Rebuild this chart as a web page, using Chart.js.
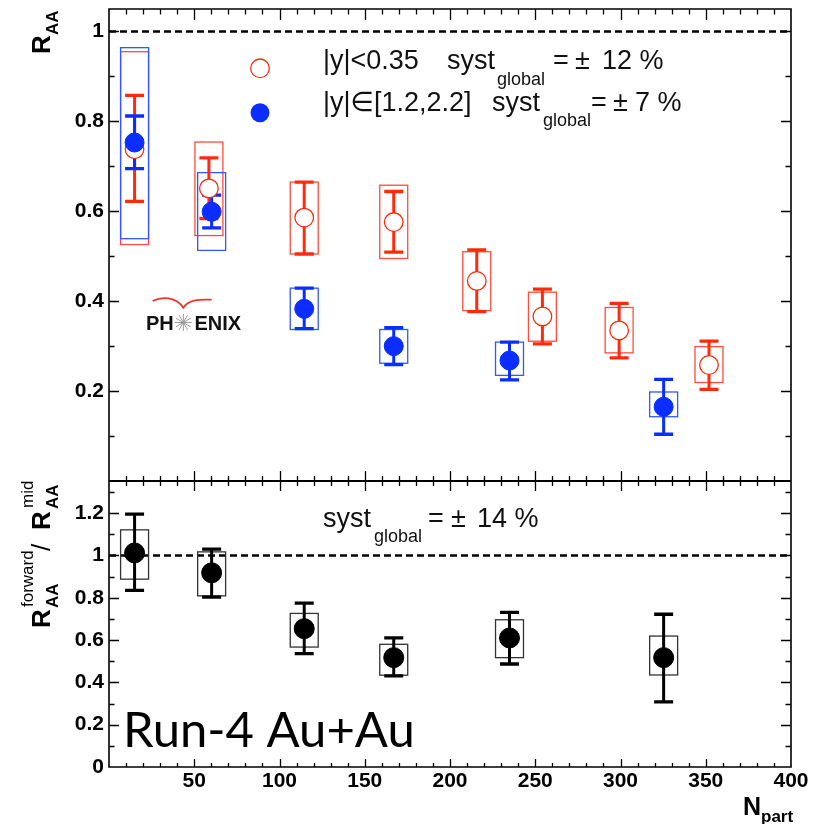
<!DOCTYPE html>
<html><head><meta charset="utf-8">
<script src="https://cdn.jsdelivr.net/npm/chart.js@4.4.0/dist/chart.umd.min.js"></script>
<style>
html,body{margin:0;padding:0;background:#fff;}
#wrap{position:relative;width:827px;height:824px;background:#fff;}
canvas{position:absolute;left:0;top:0;}
</style></head><body>
<div id="wrap"><canvas id="cTop" width="827" height="824"></canvas><canvas id="cBot" width="827" height="824"></canvas></div>
<script>
// ---------------- data ----------------
const npartMid = [15, 58.6, 114.5, 167, 215.7, 254.2, 299.2, 351.9];
const raaMid = [0.738, 0.651, 0.586, 0.576, 0.445, 0.366, 0.335, 0.258];
const raaMidStatLo = [0.622, 0.584, 0.505, 0.509, 0.377, 0.305, 0.274, 0.204];
const raaMidStatHi = [0.858, 0.719, 0.665, 0.644, 0.514, 0.427, 0.395, 0.311];
const raaMidSystLo = [0.526, 0.546, 0.505, 0.495, 0.379, 0.311, 0.285, 0.219];
const raaMidSystHi = [0.955, 0.754, 0.665, 0.658, 0.510, 0.420, 0.386, 0.299];

const npartFwd = [15, 60.2, 114.5, 167, 234.9, 325.3];
const raaFwd = [0.753, 0.599, 0.383, 0.300, 0.268, 0.165];
const raaFwdStatLo = [0.695, 0.563, 0.339, 0.259, 0.225, 0.104];
const raaFwdStatHi = [0.812, 0.636, 0.429, 0.341, 0.309, 0.226];
const raaFwdSystLo = [0.539, 0.513, 0.337, 0.262, 0.235, 0.143];
const raaFwdSystHi = [0.964, 0.686, 0.429, 0.337, 0.309, 0.198];

const ratio = [1.012, 0.918, 0.654, 0.517, 0.610, 0.517];
const ratioStatLo = [0.835, 0.803, 0.536, 0.431, 0.487, 0.308];
const ratioStatHi = [1.195, 1.030, 0.775, 0.610, 0.731, 0.722];
const ratioSystLo = [0.888, 0.809, 0.567, 0.434, 0.517, 0.435];
const ratioSystHi = [1.121, 1.017, 0.726, 0.580, 0.696, 0.619];

const xTicks = [50, 100, 150, 200, 250, 300, 350, 400];
const yTicksTop = [0.2, 0.4, 0.6, 0.8, 1];
const yTicksBottom = [0, 0.2, 0.4, 0.6, 0.8, 1, 1.2];

// ---------------- style ----------------
const RED = '#ff2a0c', RED_BOX = '#ff4c3c';
const BLUE = '#0b2dff', BLUE_BOX = '#3356ff';
const BLACK = '#000', BLACK_BOX = '#333';
const SANS = "'Liberation Sans', Arial, 'DejaVu Sans', sans-serif";
const SYST_HALF = 8.2; // Npart units

function fmt(v){ return Math.abs(v) < 1e-9 ? '0' : (Math.abs(v-1) < 1e-9 ? '1' : v.toFixed(1)); }
function noPad(s){ s.paddingTop = 0; s.paddingBottom = 0; s.paddingLeft = 0; s.paddingRight = 0; }

function boxes(ctx, sx, sy, xv, lo, hi, color){
  ctx.save(); ctx.strokeStyle = color; ctx.lineWidth = 1.3;
  for (let i=0;i<xv.length;i++){
    const l = sx.getPixelForValue(xv[i]-SYST_HALF), r = sx.getPixelForValue(xv[i]+SYST_HALF);
    const t = sy.getPixelForValue(hi[i]), b = sy.getPixelForValue(lo[i]);
    ctx.strokeRect(l, t, r-l, b-t);
  }
  ctx.restore();
}
function bars(ctx, sx, sy, xv, lo, hi, color){
  ctx.save(); ctx.strokeStyle = color; ctx.lineWidth = 3; ctx.lineCap = 'butt';
  for (let i=0;i<xv.length;i++){
    const x = sx.getPixelForValue(xv[i]);
    const t = sy.getPixelForValue(hi[i]), b = sy.getPixelForValue(lo[i]);
    ctx.beginPath(); ctx.moveTo(x, t); ctx.lineTo(x, b); ctx.stroke();
    ctx.save(); ctx.lineWidth = 3.3;
    ctx.beginPath(); ctx.moveTo(x-9.5, t); ctx.lineTo(x+9.5, t); ctx.moveTo(x-9.5, b); ctx.lineTo(x+9.5, b); ctx.stroke();
    ctx.restore();
  }
  ctx.restore();
}
function dashed(ctx, sx, sy, v){
  const y = sy.getPixelForValue(v);
  ctx.save(); ctx.strokeStyle = '#000'; ctx.lineWidth = 2.4; ctx.setLineDash([7,4]);
  ctx.beginPath(); ctx.moveTo(sx.left, y); ctx.lineTo(sx.right, y); ctx.stroke();
  ctx.restore();
}
function txt(ctx, s, x, y, font, color){
  ctx.save(); ctx.font = font; ctx.fillStyle = color || '#111'; ctx.textAlign='left'; ctx.textBaseline='alphabetic';
  ctx.fillText(s, x, y); ctx.restore();
}
function rtxt(ctx, s, x, y, font, color){
  ctx.save(); ctx.translate(x, y); ctx.rotate(-Math.PI/2);
  ctx.font = font; ctx.fillStyle = color || '#000'; ctx.textAlign='left'; ctx.textBaseline='alphabetic';
  ctx.fillText(s, 0, 0); ctx.restore();
}
function hTicks(ctx, sx, y, upMaj, dnMaj, upMin, dnMin){
  ctx.save(); ctx.strokeStyle='#000'; ctx.lineWidth=1.3;
  ctx.beginPath();
  for (let v=10; v<400; v+=10){
    const x = Math.round(sx.getPixelForValue(v))+0.5;
    const maj = v % 50 === 0;
    ctx.moveTo(x, y - (maj?upMaj:upMin)); ctx.lineTo(x, y + (maj?dnMaj:dnMin));
  }
  ctx.stroke(); ctx.restore();
}
function vTicks(ctx, sy, x, dir, nMax){
  ctx.save(); ctx.strokeStyle='#000'; ctx.lineWidth=1.3;
  ctx.beginPath();
  for (let i=1; i<=nMax; i++){
    const y = Math.round(sy.getPixelForValue(i/10))+0.5;
    const len = (i % 2 === 0) ? 10 : 5.5;
    ctx.moveTo(x, y); ctx.lineTo(x + dir*len, y);
  }
  ctx.stroke(); ctx.restore();
}

// ---------------- top panel ----------------
const topPlugin = {
  id: 'topDeco',
  beforeDatasetsDraw(chart){
    const ctx = chart.ctx, sx = chart.scales.x, sy = chart.scales.y;
    dashed(ctx, sx, sy, 1);
    boxes(ctx, sx, sy, npartMid, raaMidSystLo, raaMidSystHi, RED_BOX);
    boxes(ctx, sx, sy, npartFwd, raaFwdSystLo, raaFwdSystHi, BLUE_BOX);
    bars(ctx, sx, sy, npartMid, raaMidStatLo, raaMidStatHi, RED);
    bars(ctx, sx, sy, npartFwd, raaFwdStatLo, raaFwdStatHi, BLUE);
  },
  afterDraw(chart){
    const ctx = chart.ctx, sx = chart.scales.x, sy = chart.scales.y;
    const L = sx.left, R = sx.right, T = sy.top, B = sy.bottom;
    ctx.save(); ctx.strokeStyle='#000'; ctx.lineWidth=1.6;
    ctx.beginPath(); ctx.moveTo(L, B); ctx.lineTo(L, T); ctx.lineTo(R, T); ctx.lineTo(R, B); ctx.stroke();
    ctx.restore();
    hTicks(ctx, sx, T, 0, 11, 0, 5.5);
    vTicks(ctx, sy, L, 1, 10);
    vTicks(ctx, sy, R, -1, 10);

    // legend
    ctx.save();
    ctx.beginPath(); ctx.arc(260, 68.3, 9.3, 0, Math.PI*2); ctx.fillStyle='#fff'; ctx.fill();
    ctx.lineWidth = 1.3; ctx.strokeStyle = RED; ctx.stroke();
    ctx.beginPath(); ctx.arc(260, 112.7, 9.5, 0, Math.PI*2); ctx.fillStyle = BLUE; ctx.fill();
    ctx.restore();
    const F = '27px ' + SANS, FS = '18px ' + SANS;
    txt(ctx, '|y|<0.35', 323, 68.5, F);
    txt(ctx, 'syst', 447, 68.5, F);
    txt(ctx, 'global', 497, 85, FS);
    txt(ctx, '=', 553, 68.5, F);
    txt(ctx, '±', 575, 68.5, F);
    txt(ctx, '12 %', 602, 68.5, F);
    txt(ctx, '|y|∈[1.2,2.2]', 323, 110.5, F);
    txt(ctx, 'syst', 492, 110.5, F);
    txt(ctx, 'global', 543, 126, FS);
    txt(ctx, '=', 591, 110.5, F);
    txt(ctx, '±', 613, 110.5, F);
    txt(ctx, '7 %', 635, 110.5, F);

    // axis title R_AA
    rtxt(ctx, 'R', 50, 54, 'bold 26px ' + SANS);
    rtxt(ctx, 'AA', 58, 35, 'bold 17px ' + SANS);

    // PHENIX logo
    ctx.save();
    ctx.strokeStyle = '#e8392b'; ctx.lineWidth = 1.8;
    ctx.beginPath(); ctx.moveTo(152.7, 301); ctx.bezierCurveTo(162, 296, 176, 297, 183.3, 307.7);
    ctx.bezierCurveTo(188, 300, 198, 299, 211.7, 299.7); ctx.stroke();
    ctx.strokeStyle = '#9a9a9a'; ctx.lineWidth = 1;
    ctx.beginPath();
    for (let k=0;k<12;k++){ const a = k*Math.PI/6; ctx.moveTo(183.3, 322.5); ctx.lineTo(183.3+8.5*Math.cos(a), 322.5+8.5*Math.sin(a)); }
    ctx.stroke(); ctx.restore();
    txt(ctx, 'PH', 146, 330, 'bold 20px ' + SANS, '#111');
    txt(ctx, 'ENIX', 194.5, 330, 'bold 20px ' + SANS, '#111');
  }
};

new Chart(document.getElementById('cTop'), {
  type: 'scatter',
  data: { datasets: [
    { label: '|y|∈[1.2,2.2]', data: npartFwd.map((x,i)=>({x, y: raaFwd[i]})),
      pointRadius: 9.5, pointHoverRadius: 9.5, pointBackgroundColor: BLUE, pointBorderColor: BLUE, pointBorderWidth: 1, showLine: false },
    { label: '|y|<0.35', data: npartMid.map((x,i)=>({x, y: raaMid[i]})),
      pointRadius: 9.3, pointHoverRadius: 9.3, pointBackgroundColor: '#fff', pointBorderColor: RED, pointBorderWidth: 1.3, showLine: false }
  ]},
  options: {
    responsive: false, animation: false, devicePixelRatio: 1,
    layout: { autoPadding: false, padding: { left: 0, top: 9, right: 36, bottom: 343 } },
    plugins: { legend: { display: false }, tooltip: { enabled: false } },
    scales: {
      x: { type: 'linear', min: 0, max: 400, display: false, afterFit: noPad },
      y: { type: 'linear', min: 0, max: 1.05,
        afterFit: s => { s.width = 109; noPad(s); },
        afterBuildTicks: s => { s.ticks = yTicksTop.map(v => ({value: v})); },
        grid: { display: false, drawTicks: false }, border: { display: false },
        ticks: { padding: 5, color: '#000', font: { family: SANS, size: 21, weight: 'bold' }, callback: v => fmt(v) } }
    }
  },
  plugins: [topPlugin]
});

// ---------------- bottom panel ----------------
const botPlugin = {
  id: 'botDeco',
  beforeDatasetsDraw(chart){
    const ctx = chart.ctx, sx = chart.scales.x, sy = chart.scales.y;
    dashed(ctx, sx, sy, 1);
    boxes(ctx, sx, sy, npartFwd, ratioSystLo, ratioSystHi, BLACK_BOX);
    bars(ctx, sx, sy, npartFwd, ratioStatLo, ratioStatHi, BLACK);
  },
  afterDraw(chart){
    const ctx = chart.ctx, sx = chart.scales.x, sy = chart.scales.y;
    const L = sx.left, R = sx.right, T = sy.top, B = sy.bottom;
    ctx.save(); ctx.strokeStyle='#000'; ctx.lineWidth=1.6;
    ctx.beginPath(); ctx.moveTo(L, T); ctx.lineTo(L, B); ctx.lineTo(R, B); ctx.lineTo(R, T); ctx.stroke();
    ctx.lineWidth = 2.2; ctx.beginPath(); ctx.moveTo(L, T); ctx.lineTo(R, T); ctx.stroke();
    ctx.restore();
    hTicks(ctx, sx, T, 10, 10, 5, 5);
    hTicks(ctx, sx, B, 8, 0, 4, 0);
    vTicks(ctx, sy, L, 1, 13);
    vTicks(ctx, sy, R, -1, 13);

    const F = '27px ' + SANS, FS = '18px ' + SANS;
    txt(ctx, 'syst', 323, 526.7, F);
    txt(ctx, 'global', 374, 541.7, FS);
    txt(ctx, '=', 428, 526.7, F);
    txt(ctx, '±', 451, 526.7, F);
    txt(ctx, '14 %', 477, 526.7, F);

    txt(ctx, 'Run-4 Au+Au', 123, 747, "49px Lato, 'Open Sans', sans-serif", '#000');

    txt(ctx, 'N', 743, 815, 'bold 25px ' + SANS, '#000');
    txt(ctx, 'part', 761, 822, 'bold 17px ' + SANS, '#000');

    // axis title R_AA^forward / R_AA^mid
    rtxt(ctx, 'R', 50, 628, 'bold 26px ' + SANS);
    rtxt(ctx, 'AA', 58, 608, 'bold 17px ' + SANS);
    rtxt(ctx, 'forward', 33, 607, '17px ' + SANS);
    rtxt(ctx, '/', 50, 551, '26px ' + SANS);
    rtxt(ctx, 'R', 50, 530, 'bold 26px ' + SANS);
    rtxt(ctx, 'AA', 58, 509, 'bold 17px ' + SANS);
    rtxt(ctx, 'mid', 33, 508, '17px ' + SANS);
  }
};

new Chart(document.getElementById('cBot'), {
  type: 'scatter',
  data: { datasets: [
    { label: 'ratio', data: npartFwd.map((x,i)=>({x, y: ratio[i]})),
      pointRadius: 10, pointHoverRadius: 10, pointBackgroundColor: BLACK, pointBorderColor: BLACK, pointBorderWidth: 1, showLine: false }
  ]},
  options: {
    responsive: false, animation: false, devicePixelRatio: 1,
    layout: { autoPadding: false, padding: { left: 0, top: 481, right: 36, bottom: 0 } },
    plugins: { legend: { display: false }, tooltip: { enabled: false } },
    scales: {
      x: { type: 'linear', min: 0, max: 400,
        afterFit: s => { s.height = 57; noPad(s); },
        afterBuildTicks: s => { s.ticks = xTicks.map(v => ({value: v})); },
        grid: { display: false, drawTicks: false }, border: { display: false },
        ticks: { padding: 2, maxRotation: 0, autoSkip: false, color: '#000', font: { family: SANS, size: 21, weight: 'bold' }, callback: v => String(v) } },
      y: { type: 'linear', min: 0, max: 1.352,
        afterFit: s => { s.width = 109; noPad(s); },
        afterBuildTicks: s => { s.ticks = yTicksBottom.map(v => ({value: v})); },
        grid: { display: false, drawTicks: false }, border: { display: false },
        ticks: { padding: 5, color: '#000', font: { family: SANS, size: 21, weight: 'bold' }, callback: v => fmt(v) } }
    }
  },
  plugins: [botPlugin]
});
</script>
</body></html>
